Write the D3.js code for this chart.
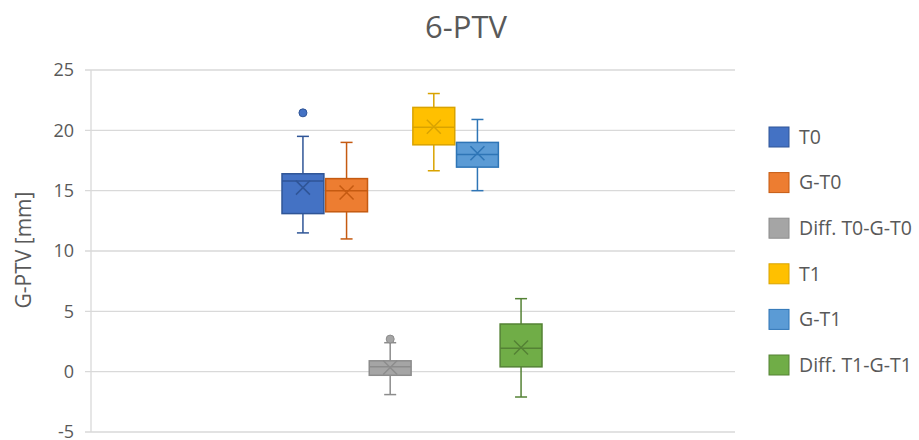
<!DOCTYPE html>
<html><head><meta charset="utf-8">
<script src="https://cdn.jsdelivr.net/npm/d3@7"></script>
<style>body{margin:0;background:#fff}svg{display:block}text{font-family:"Open Sans",sans-serif}</style>
</head><body><svg id="c" width="919" height="440"></svg>
<script>
const seriesNames = ["T0","G-T0","Diff. T0-G-T0","T1","G-T1","Diff. T1-G-T1"];
const fills = ["#4472C4","#ED7D31","#A5A5A5","#FFC000","#5B9BD5","#70AD47"];
const strokes = ["#2F5597","#C55A11","#8C8C8C","#D9A300","#2E75B6","#548235"];
const whiskerLow = [11.5, 11.0, -1.9, 16.65, 15.0, -2.1];
const q1 = [13.1, 13.25, -0.3, 18.8, 16.95, 0.4];
const median = [15.8, 15.0, 0.4, 20.25, 18.0, 1.95];
const q3 = [16.4, 16.0, 0.9, 21.9, 19.0, 3.95];
const whiskerHigh = [19.5, 19.0, 2.4, 23.05, 20.9, 6.05];
const mean = [15.25, 14.85, 0.35, 20.3, 18.1, 2.0];
const outliers = [[21.45], [], [2.7], [], [], []];
const yTicks = [-5,0,5,10,15,20,25];
const title = "6-PTV";
const yLabel = "G-PTV [mm]";

const svg = d3.select("#c");
const y = d3.scaleLinear().domain([-5,25]).range([432,70]);
const x = d3.scaleBand().domain(seriesNames).range([282,542]).paddingInner(0.04);

svg.append("g").attr("transform","translate(85,0)")
  .call(d3.axisLeft(y).tickValues(yTicks).tickSize(0).tickPadding(11).tickFormat(d=>String(d)))
  .call(g=>g.select(".domain").remove())
  .call(g=>g.selectAll("text").attr("fill","#595959").style("font-size","18px"));
svg.append("g").selectAll("line").data(yTicks).join("line")
  .attr("x1",85).attr("x2",735).attr("y1",d=>y(d)).attr("y2",d=>y(d))
  .attr("stroke","#D9D9D9").attr("stroke-width",1.3);
svg.append("line").attr("x1",91).attr("x2",91).attr("y1",y(25)).attr("y2",y(-5))
  .attr("stroke","#D9D9D9").attr("stroke-width",1.3);

const bw = x.bandwidth();
const g = svg.append("g");
seriesNames.forEach((s,i)=>{
  const x0 = x(s), cx = x0 + bw/2;
  const gg = g.append("g");
  const st = strokes[i];
  gg.append("line").attr("x1",cx).attr("x2",cx).attr("y1",y(whiskerHigh[i])).attr("y2",y(q3[i])).attr("stroke",st).attr("stroke-width",1.5);
  gg.append("line").attr("x1",cx).attr("x2",cx).attr("y1",y(q1[i])).attr("y2",y(whiskerLow[i])).attr("stroke",st).attr("stroke-width",1.5);
  [whiskerHigh[i],whiskerLow[i]].forEach(v=>gg.append("line").attr("x1",cx-6).attr("x2",cx+6).attr("y1",y(v)).attr("y2",y(v)).attr("stroke",st).attr("stroke-width",1.5));
  gg.append("rect").attr("x",x0).attr("width",bw).attr("y",y(q3[i])).attr("height",y(q1[i])-y(q3[i]))
    .attr("fill",fills[i]).attr("stroke",st).attr("stroke-width",1.5);
  gg.append("line").attr("x1",x0).attr("x2",x0+bw).attr("y1",y(median[i])).attr("y2",y(median[i])).attr("stroke",st).attr("stroke-width",1.5);
  const my = y(mean[i]), r = 7;
  gg.append("path").attr("d",`M${cx-r},${my-r}L${cx+r},${my+r}M${cx-r},${my+r}L${cx+r},${my-r}`).attr("stroke",st).attr("stroke-width",1.5);
  outliers[i].forEach(v=>gg.append("circle").attr("cx",cx).attr("cy",y(v)).attr("r",4).attr("fill",fills[i]).attr("stroke",st));
});

svg.append("text").attr("x",466).attr("y",38).attr("text-anchor","middle").attr("fill","#595959").style("font-size","31px").text(title);
svg.append("text").attr("transform","translate(31,250) rotate(-90)").attr("text-anchor","middle").attr("fill","#595959").style("font-size","21px").text(yLabel);

const ly = d3.scalePoint().domain(seriesNames).range([137,365]);
const lg = svg.append("g").selectAll("g").data(seriesNames).join("g").attr("transform",d=>`translate(769,${ly(d)})`);
lg.append("rect").attr("x",0).attr("y",-10).attr("width",20).attr("height",20).attr("fill",(d,i)=>fills[i]).attr("stroke",(d,i)=>strokes[i]);
lg.append("text").attr("x",30).attr("y",0).attr("dy","0.35em").attr("fill","#595959").style("font-size","19.5px").text(d=>d);
</script></body></html>
